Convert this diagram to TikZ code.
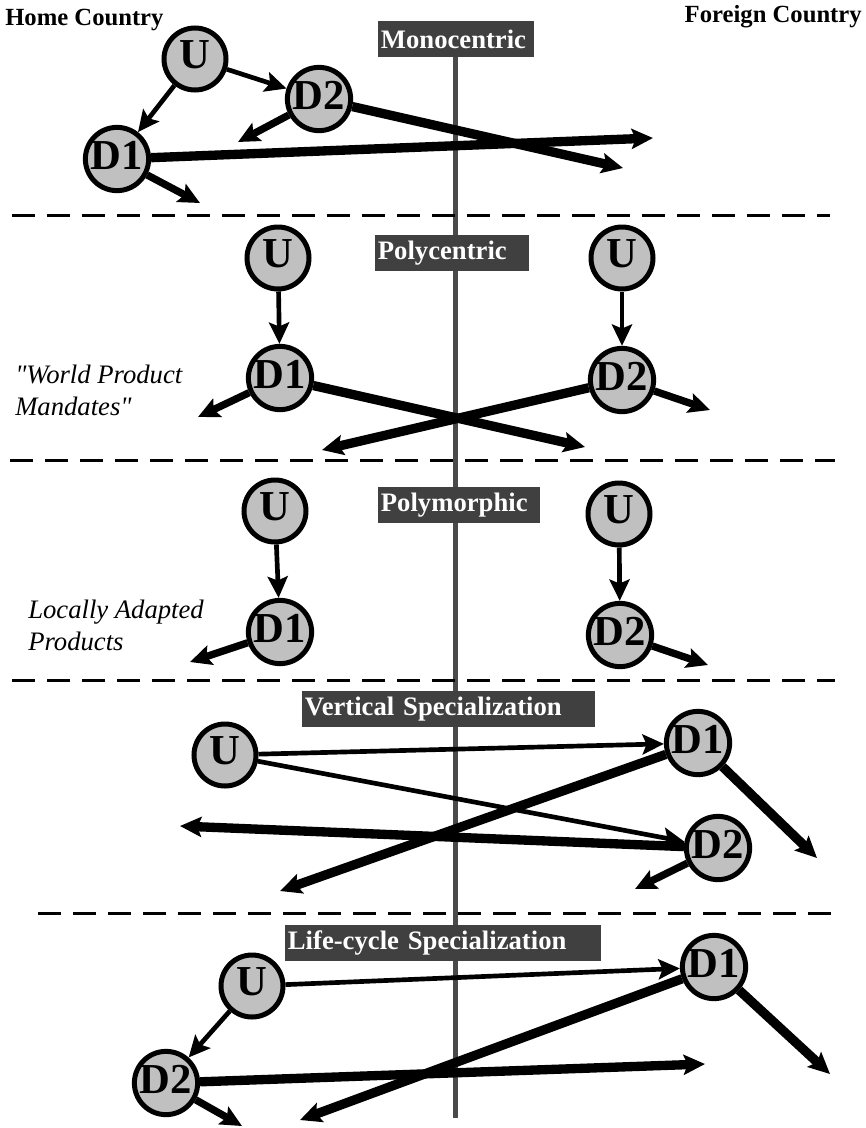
\documentclass[tikz,border=0pt]{standalone}
\usepackage{fontspec}
\setmainfont{Liberation Serif}
% a second handle on the serif, without TeX quote ligatures, for straight quotes
\newfontfamily\notefont{Liberation Serif}
\usetikzlibrary{arrows.meta}
\definecolor{nodegray}{HTML}{C0C0C0}
\definecolor{boxgray}{HTML}{404040}
\definecolor{axisgray}{HTML}{4A4A4A}

\begin{document}
\begin{tikzpicture}[x=0.75pt,y=-0.75pt,
  site/.style={circle, draw=black, line width=3.75pt, fill=nodegray,
    minimum size=46.5pt, inner sep=0pt, text depth=6pt,
    font=\bfseries\fontsize{32}{32}\selectfont},
  headtip/.style={-{Stealth[length=16pt,width=15pt,inset=3pt]}},
  flowthin/.style={headtip, line width=3.5pt},
  flowmed/.style={headtip, line width=5.5pt},
  flowthick/.style={headtip, line width=7pt},
  strategy/.style={fill=boxgray, text=white, anchor=west, align=left,
    inner xsep=2pt, inner ysep=0pt, minimum height=27pt,
    font=\bfseries\fontsize{20}{22}\selectfont},
  divider/.style={line width=2.25pt, dash pattern=on 17pt off 9.25pt},
  country/.style={font=\bfseries\fontsize{18.5}{20}\selectfont, inner sep=0pt},
  note/.style={font=\notefont\itshape\fontsize{20}{24}\selectfont, align=left,
    anchor=north west, inner sep=0pt}
]
\useasboundingbox (0,0) rectangle (865,1128);

% border between the two countries
\draw[axisgray, line width=3.75pt] (455,57) -- (455,1118);

% section separators
\draw[divider] (12,215) -- (830,215);
\draw[divider] (10,460) -- (835,460);
\draw[divider] (12,680) -- (835,680);
\draw[divider] (38,913) -- (840,913);

% headings
\node[country, anchor=base west] (home) at (5,25) {Home Country};
\node[country, anchor=base east] (foreign) at (862,22) {Foreign Country};

\node[strategy, text width=113pt] (mono) at (378,39) {Monocentric};
\node[strategy, text width=111.5pt] (poly) at (375,253) {Polycentric};
\node[strategy, text width=117.5pt] (morph) at (378,505) {Polymorphic};
\node[strategy, text width=215.75pt] (vert) at (302,709) {Vertical Specialization};
\node[strategy, text width=233pt] (life) at (285,943) {Life-cycle Specialization};

\node[note] (wpm) at (15,365) {"World Product\\Mandates"};
\node[note] (lap) at (28,600) {Locally Adapted\\Products};

% ---- monocentric ----
\node[site] (mU) at (195,59) {U};
\node[site] (mD2) at (319,99) {D2};
\node[site] (mD1) at (117,159) {D1};
\coordinate (m1) at (238,142);
\coordinate (m2) at (623,168);
\coordinate (m3) at (653,138);
\coordinate (m4) at (200,203);
\draw[flowthin] (mU) -- (mD1);
\draw[flowthin] (mU) -- (mD2);
\draw[flowmed] (mD2) -- (m1);
\draw[flowthick] (mD2) -- (m2);
\draw[flowthick] (mD1) -- (m3);
\draw[flowmed] (mD1) -- (m4);

% ---- polycentric ----
\node[site] (pU1) at (278,258) {U};
\node[site] (pD1) at (280,378) {D1};
\node[site] (pU2) at (622,258) {U};
\node[site] (pD2) at (622,380) {D2};
\coordinate (p1) at (198,417);
\coordinate (p2) at (585,447);
\coordinate (p3) at (322,450);
\coordinate (p4) at (710,410);
\draw[flowthin] (pU1) -- (pD1);
\draw[flowthin] (pU2) -- (pD2);
\draw[flowmed] (pD1) -- (p1);
\draw[flowthick] (pD1) -- (p2);
\draw[flowthick] (pD2) -- (p3);
\draw[flowmed] (pD2) -- (p4);

% ---- polymorphic ----
\node[site] (yU1) at (275,511) {U};
\node[site] (yD1) at (280,632) {D1};
\node[site] (yU2) at (619,514) {U};
\node[site] (yD2) at (620,635) {D2};
\coordinate (y1) at (190,662);
\coordinate (y2) at (708,665);
\draw[flowthin] (yU1) -- (yD1);
\draw[flowthin] (yU2) -- (yD2);
\draw[flowmed] (yD1) -- (y1);
\draw[flowmed] (yD2) -- (y2);

% ---- vertical specialization ----
\node[site] (vU) at (225,755) {U};
\node[site] (vD1) at (698,743) {D1};
\node[site] (vD2) at (718,848) {D2};
\coordinate (v1) at (280,891);
\coordinate (v2) at (817,858);
\coordinate (v3) at (180,826);
\coordinate (v4) at (635,889);
\draw[flowthin] (vU) -- (vD1);
\draw[flowthin] (vU) -- (vD2);
\draw[flowthick] (vD1) -- (v1);
\draw[flowthick] (vD1) -- (v2);
\draw[flowthick] (vD2) -- (v3);
\draw[flowmed] (vD2) -- (v4);

% ---- life-cycle specialization ----
\node[site] (lU) at (252,986) {U};
\node[site] (lD1) at (714,967) {D1};
\node[site] (lD2) at (166,1083) {D2};
\coordinate (l1) at (300,1120);
\coordinate (l2) at (830,1074);
\coordinate (l3) at (705,1064);
\coordinate (l4) at (242,1126);
\draw[flowthin] (lU) -- (lD1);
\draw[flowthin] (lU) -- (lD2);
\draw[flowthick] (lD1) -- (l1);
\draw[flowthick] (lD1) -- (l2);
\draw[flowthick] (lD2) -- (l3);
\draw[flowmed] (lD2) -- (l4);
\end{tikzpicture}
\end{document}
